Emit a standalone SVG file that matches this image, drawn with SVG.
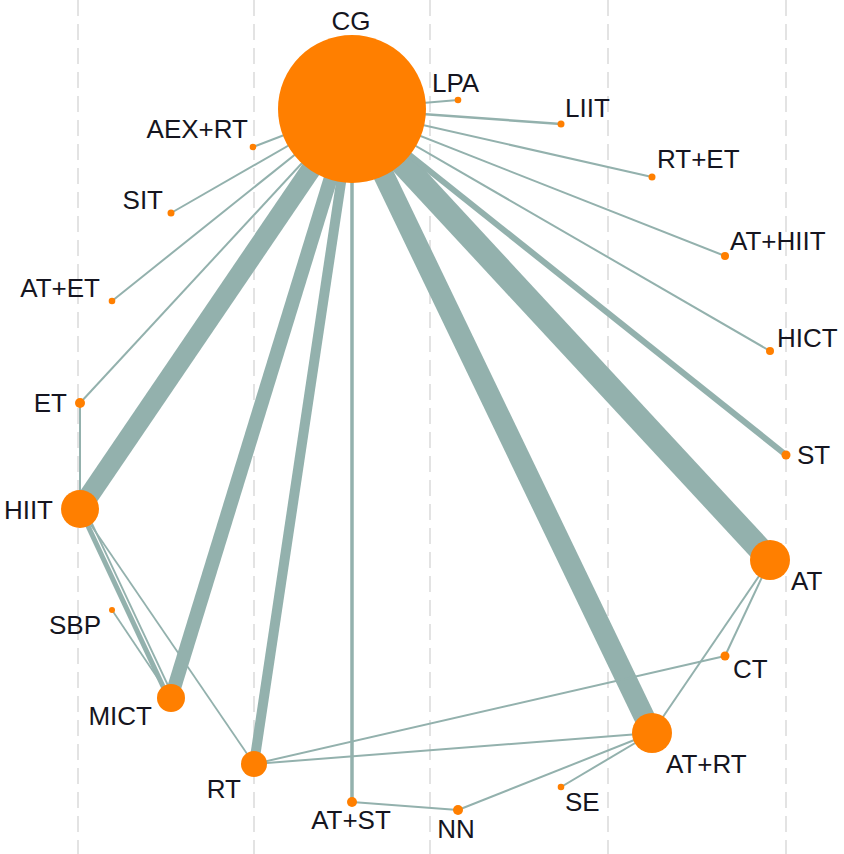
<svg xmlns="http://www.w3.org/2000/svg" width="844" height="854" viewBox="0 0 844 854">
<style>
.grid{stroke:#e3e3e3;stroke-width:2;stroke-dasharray:16 8;fill:none}
.e{stroke:#93b1ad;stroke-linecap:butt;fill:none}
.n{fill:#ff7f00}
.t{font-family:"Liberation Sans",Arial,sans-serif;font-size:26px;fill:#151520}
.r{text-anchor:end}
.m{text-anchor:middle}
</style>
<rect width="844" height="854" fill="#ffffff"/>
<g id="grid">
<line class="grid" x1="78" y1="0" x2="78" y2="854"/>
<line class="grid" x1="254" y1="0" x2="254" y2="854"/>
<line class="grid" x1="430" y1="0" x2="430" y2="854"/>
<line class="grid" x1="608" y1="0" x2="608" y2="854"/>
<line class="grid" x1="786" y1="0" x2="786" y2="854"/>
</g>
<g id="connectors">
<line class="e" x1="352" y1="109" x2="253" y2="147" stroke-width="2"/>
<line class="e" x1="352" y1="109" x2="171" y2="213" stroke-width="2"/>
<line class="e" x1="352" y1="109" x2="112" y2="301" stroke-width="2"/>
<line class="e" x1="352" y1="109" x2="80" y2="403" stroke-width="2"/>
<line class="e" x1="352" y1="109" x2="80" y2="509" stroke-width="20"/>
<line class="e" x1="352" y1="109" x2="171" y2="698" stroke-width="14"/>
<line class="e" x1="352" y1="109" x2="254" y2="764" stroke-width="10"/>
<line class="e" x1="352" y1="109" x2="352" y2="802" stroke-width="3.5"/>
<line class="e" x1="352" y1="109" x2="652" y2="733" stroke-width="21"/>
<line class="e" x1="352" y1="109" x2="770" y2="560" stroke-width="24"/>
<line class="e" x1="352" y1="109" x2="786" y2="455" stroke-width="6"/>
<line class="e" x1="352" y1="109" x2="770" y2="351" stroke-width="2"/>
<line class="e" x1="352" y1="109" x2="725" y2="256" stroke-width="2"/>
<line class="e" x1="352" y1="109" x2="652" y2="177" stroke-width="2"/>
<line class="e" x1="352" y1="109" x2="561" y2="124" stroke-width="2.5"/>
<line class="e" x1="352" y1="109" x2="458" y2="100" stroke-width="2"/>
<line class="e" x1="80" y1="403" x2="80" y2="509" stroke-width="2"/>
<line class="e" x1="80" y1="509" x2="168" y2="697" stroke-width="5"/>
<line class="e" x1="86" y1="511" x2="172" y2="694" stroke-width="1.8"/>
<line class="e" x1="80" y1="509" x2="254" y2="764" stroke-width="1.8"/>
<line class="e" x1="112" y1="610" x2="171" y2="698" stroke-width="1.8"/>
<line class="e" x1="254" y1="764" x2="725" y2="656" stroke-width="2"/>
<line class="e" x1="254" y1="764" x2="652" y2="733" stroke-width="2"/>
<line class="e" x1="352" y1="802" x2="458" y2="810" stroke-width="2"/>
<line class="e" x1="458" y1="810" x2="652" y2="733" stroke-width="2"/>
<line class="e" x1="561" y1="787" x2="652" y2="733" stroke-width="2"/>
<line class="e" x1="770" y1="560" x2="725" y2="656" stroke-width="2"/>
<line class="e" x1="770" y1="560" x2="652" y2="733" stroke-width="2"/>
</g>
<g id="node-CG"><circle class="n" cx="352" cy="109" r="74"/><text class="t m" x="351" y="30">CG</text></g>
<g id="node-LPA"><circle class="n" cx="458" cy="100" r="3.3"/><text class="t" x="432" y="92">LPA</text></g>
<g id="node-LIIT"><circle class="n" cx="561" cy="124" r="3.5"/><text class="t" x="565" y="117">LIIT</text></g>
<g id="node-RTET"><circle class="n" cx="652" cy="177" r="3.5"/><text class="t" x="657" y="168">RT+ET</text></g>
<g id="node-ATHIIT"><circle class="n" cx="725" cy="256" r="4"/><text class="t" x="730" y="250">AT+HIIT</text></g>
<g id="node-HICT"><circle class="n" cx="770" cy="351" r="4"/><text class="t" x="777" y="347">HICT</text></g>
<g id="node-ST"><circle class="n" cx="786" cy="455" r="4.5"/><text class="t" x="797" y="464">ST</text></g>
<g id="node-AT"><circle class="n" cx="770" cy="560" r="20"/><text class="t" x="791" y="590">AT</text></g>
<g id="node-CT"><circle class="n" cx="725" cy="656" r="4.5"/><text class="t" x="733" y="678">CT</text></g>
<g id="node-ATRT"><circle class="n" cx="652" cy="733" r="20"/><text class="t" x="666" y="773">AT+RT</text></g>
<g id="node-SE"><circle class="n" cx="561" cy="787" r="3.3"/><text class="t" x="565" y="811">SE</text></g>
<g id="node-NN"><circle class="n" cx="458" cy="810" r="5"/><text class="t m" x="456" y="838">NN</text></g>
<g id="node-ATST"><circle class="n" cx="352" cy="802" r="5"/><text class="t m" x="351" y="829">AT+ST</text></g>
<g id="node-RT"><circle class="n" cx="254" cy="764" r="13"/><text class="t r" x="241" y="798">RT</text></g>
<g id="node-MICT"><circle class="n" cx="171" cy="698" r="14"/><text class="t r" x="152" y="725">MICT</text></g>
<g id="node-SBP"><circle class="n" cx="112" cy="610" r="3"/><text class="t r" x="101" y="634">SBP</text></g>
<g id="node-HIIT"><circle class="n" cx="80" cy="509" r="19"/><text class="t r" x="53" y="519">HIIT</text></g>
<g id="node-ET"><circle class="n" cx="80" cy="403" r="5"/><text class="t r" x="67" y="412">ET</text></g>
<g id="node-ATET"><circle class="n" cx="112" cy="301" r="3.3"/><text class="t r" x="100" y="297">AT+ET</text></g>
<g id="node-SIT"><circle class="n" cx="171" cy="213" r="3.5"/><text class="t r" x="163" y="209">SIT</text></g>
<g id="node-AEXRT"><circle class="n" cx="253" cy="147" r="3.3"/><text class="t r" x="248" y="138">AEX+RT</text></g>
</svg>
